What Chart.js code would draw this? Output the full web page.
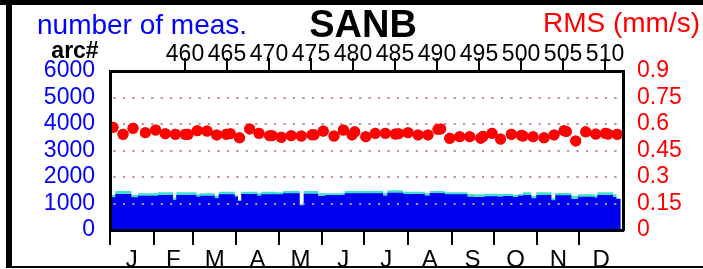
<!DOCTYPE html>
<html>
<head>
<meta charset="utf-8">
<script src="https://cdn.jsdelivr.net/npm/chart.js@4.4.0/dist/chart.umd.min.js"></script>
<style>
  html, body { margin: 0; padding: 0; background: #fff; }
  canvas { display: block; }
</style>
</head>
<body>
<canvas id="SanbChart" width="703" height="269"></canvas>
<script>
// axis ticks
const arcTicks = [460, 465, 470, 475, 480, 485, 490, 495, 500, 505, 510];
const monthLabels = ['J', 'F', 'M', 'A', 'M', 'J', 'J', 'A', 'S', 'O', 'N', 'D'];
const monthStarts = [0, 31, 59, 90, 120, 151, 181, 212, 243, 273, 304, 334, 365];
const measTicks = [0, 1000, 2000, 3000, 4000, 5000, 6000];
const rmsTicks = [0, 0.15, 0.3, 0.45, 0.6, 0.75, 0.9];

// number of measurements (stepped), arc where each step starts
const stepArc = [451.1, 451.70, 453.61, 454.40, 456.79, 458.57, 458.96, 461.35, 461.75, 463.54,
  464.01, 465.92, 466.31, 466.70, 468.61, 469.08, 470.87, 471.67, 473.65, 474.13,
  475.83, 476.70, 479.01, 483.57, 484.08, 485.95, 488.54, 489.13, 490.92, 493.61,
  494.49, 495.68, 497.26, 497.86, 499.05, 499.64, 500.24, 501.23, 501.82, 503.61,
  504.08, 505.99, 506.79, 508.77, 509.08, 510.95, 511.35];
const stepEnd = 511.87;
const measUsed = [1233, 1358, 1233, 1296, 1321, 1132, 1321, 1258, 1296, 1195,
  1346, 1258, 1094, 1358, 1296, 1346, 1346, 1384, 935, 1371,
  1283, 1321, 1384, 1296, 1409, 1358, 1296, 1396, 1346, 1258,
  1245, 1270, 1258, 1283, 1245, 1296, 1321, 1195, 1321, 1120,
  1308, 1170, 1258, 1220, 1321, 1245, 1170];
const measAll = [1321, 1472, 1321, 1384, 1422, 1220, 1422, 1346, 1384, 1296,
  1447, 1321, 1130, 1447, 1384, 1447, 1422, 1472, 975, 1472,
  1384, 1384, 1472, 1384, 1497, 1447, 1384, 1472, 1422, 1358,
  1346, 1371, 1358, 1371, 1321, 1358, 1422, 1283, 1422, 1195,
  1396, 1296, 1346, 1296, 1422, 1346, 1195];

// RMS per arc
const rmsArc = [451.43, 452.62, 453.81, 455.27, 456.51, 457.65, 458.85, 460.04, 460.36, 461.46,
  462.62, 463.77, 464.92, 465.39, 466.49, 467.70, 468.81, 470.08, 470.36, 471.46,
  472.65, 473.85, 475.12, 475.36, 476.46, 477.74, 478.85, 479.88, 480.20, 481.52,
  482.65, 483.85, 485.04, 485.44, 486.55, 487.74, 488.93, 490.12, 490.44, 491.51,
  492.70, 493.89, 495.20, 495.48, 496.55, 497.56, 498.85, 500.04, 500.24, 501.43,
  502.74, 503.93, 505.12, 505.39, 506.51, 507.70, 508.89, 510.04, 510.36, 511.46];
const rmsValue = [0.581, 0.542, 0.576, 0.551, 0.566, 0.545, 0.542, 0.542, 0.542, 0.562,
  0.560, 0.538, 0.542, 0.545, 0.522, 0.572, 0.547, 0.534, 0.534, 0.525,
  0.534, 0.532, 0.539, 0.539, 0.560, 0.532, 0.566, 0.538, 0.556, 0.528,
  0.547, 0.547, 0.543, 0.545, 0.551, 0.538, 0.538, 0.570, 0.572, 0.519,
  0.528, 0.528, 0.520, 0.530, 0.547, 0.515, 0.542, 0.536, 0.532, 0.528,
  0.522, 0.538, 0.562, 0.558, 0.504, 0.556, 0.543, 0.547, 0.543, 0.542];

const family = "'Liberation Sans', Arial, Helvetica, sans-serif";

function steps(values) {
  const pts = stepArc.map((a, i) => ({x: a, y: values[i]}));
  pts.push({x: stepEnd, y: values[values.length - 1]});
  return pts;
}

// month axis: boundary ticks carry the marks, mid-month ticks carry the letters
const monthTicks = [];
for (let i = 0; i < 12; i++) {
  monthTicks.push({value: monthStarts[i], label: '', mark: true});
  monthTicks.push({value: (monthStarts[i] + monthStarts[i + 1]) / 2, label: monthLabels[i], mark: false});
}

const headers = {
  id: 'headers',
  afterDraw(chart) {
    const g = chart.ctx;
    const a = chart.chartArea;
    // dotted grid over the filled steps, rms dots over the grid
    chart.scales.y.drawGrid(a);
    g.save();
    g.beginPath();
    g.rect(a.left, a.top, a.right - a.left, a.bottom - a.top);
    g.clip();
    chart.getDatasetMeta(0).controller.draw();
    g.restore();
    ['x', 'xm', 'y', 'y2'].forEach(id => chart.scales[id].drawBorder());

    g.save();
    g.setLineDash([]);
    g.globalAlpha = 1;
    g.globalCompositeOperation = 'source-over';
    g.textBaseline = 'alphabetic';
    g.textAlign = 'left';
    g.fillStyle = '#0000ff';
    g.font = '28px ' + family;
    g.fillText('number of meas.', 37, 34);
    g.textAlign = 'center';
    g.fillStyle = '#000';
    g.font = 'bold 38px ' + family;
    g.fillText('SANB', 363, 37);
    g.font = 'bold 23px ' + family;
    g.fillText('arc#', 75, 58);
    g.textAlign = 'right';
    g.fillStyle = '#ff0000';
    g.font = '28px ' + family;
    g.fillText('RMS (mm/s)', 700, 32);
    // frame
    g.fillStyle = '#000';
    g.fillRect(0, 0, 703, 5);
    g.fillRect(6, 0, 6, 268);
    g.fillRect(11, 266, 692, 2);

    // arc# tick marks hanging above the plot
    const s = chart.scales.x;
    const base = Number.isFinite(s.bottom) ? s.bottom : a.top;
    g.strokeStyle = '#000';
    g.lineWidth = 2;
    g.beginPath();
    arcTicks.forEach(v => {
      let px = s.getPixelForValue(v);
      if (!Number.isFinite(px)) px = a.left + (v - s.min) / (s.max - s.min) * (a.right - a.left);
      g.moveTo(Math.round(px), base - 13);
      g.lineTo(Math.round(px), base);
    });
    g.stroke();
    g.restore();
  }
};

const sanbChart = new Chart(document.getElementById('SanbChart'), {
  type: 'line',
  data: {
    datasets: [{
      type: 'scatter',
      label: 'RMS',
      data: rmsArc.map((a, i) => ({x: a, y: rmsValue[i]})),
      xAxisID: 'x',
      yAxisID: 'y2',
      backgroundColor: '#ff0000',
      borderColor: '#ff0000',
      pointRadius: 5.5,
      pointBorderWidth: 0
    }, {
      label: 'used',
      data: steps(measUsed),
      xAxisID: 'x',
      yAxisID: 'y',
      stepped: 'before',
      fill: 'origin',
      backgroundColor: '#0000f0',
      borderColor: '#0000f0',
      borderWidth: 0,
      pointRadius: 0
    }, {
      label: 'all',
      data: steps(measAll),
      xAxisID: 'x',
      yAxisID: 'y',
      stepped: 'before',
      fill: 'origin',
      backgroundColor: '#40e0d0',
      borderColor: '#40e0d0',
      borderWidth: 0,
      pointRadius: 0
    }]
  },
  options: {
    responsive: false,
    animation: false,
    devicePixelRatio: 1,
    layout: { padding: 0 },
    plugins: {
      legend: { display: false },
      tooltip: { enabled: false },
      title: { display: false }
    },
    scales: {
      x: {
        type: 'linear',
        position: 'top',
        min: 451.07,
        max: 512.14,
        afterBuildTicks: s => { s.ticks = arcTicks.map(v => ({value: v})); },
        afterFit: s => { s.height = 71; },
        ticks: {
          autoSkip: false, maxRotation: 0, color: '#000', padding: -8,
          font: { family: family, size: 23, lineHeight: 1 },
          callback: v => String(v)
        },
        grid: { drawOnChartArea: false, drawTicks: true, tickLength: 13, color: '#000', lineWidth: 2 },
        border: { display: true, color: '#000', width: 3 }
      },
      xm: {
        type: 'linear',
        position: 'bottom',
        min: 0,
        max: 365,
        afterBuildTicks: s => { s.ticks = monthTicks.map(t => ({value: t.value})); },
        afterFit: s => { s.height = 39; },
        ticks: {
          autoSkip: false, maxRotation: 0, color: '#000', padding: 3,
          font: { family: family, size: 24, lineHeight: 1 },
          callback: (v, i) => monthTicks[i].label
        },
        grid: {
          drawOnChartArea: false, drawTicks: true, tickLength: 15, lineWidth: 2,
          color: c => (monthTicks[c.index] && monthTicks[c.index].mark) ? '#000' : 'rgba(0,0,0,0)'
        },
        border: { display: true, color: '#000', width: 3 }
      },
      y: {
        position: 'left',
        min: 0,
        max: 6000,
        afterBuildTicks: s => { s.ticks = measTicks.map(v => ({value: v})); },
        afterFit: s => { s.width = 110; },
        ticks: {
          autoSkip: false, color: '#0000ff', padding: 15,
          font: { family: family, size: 23 },
          callback: v => String(v)
        },
        grid: {
          drawTicks: false, lineWidth: 2,
          color: c => (c.tick && c.tick.value > 0 && c.tick.value < 6000) ? '#c09898' : 'rgba(0,0,0,0)'
        },
        border: { display: true, color: '#000', width: 3, dash: [2, 7.45], dashOffset: -1.5 }
      },
      y2: {
        position: 'right',
        min: 0,
        max: 0.9,
        afterBuildTicks: s => { s.ticks = rmsTicks.map(v => ({value: v})); },
        afterFit: s => { s.width = 80; },
        ticks: {
          autoSkip: false, color: '#ff0000', padding: 14,
          font: { family: family, size: 23 },
          callback: v => String(v)
        },
        grid: { drawOnChartArea: false, drawTicks: false },
        border: { display: true, color: '#000', width: 3 }
      }
    }
  },
  plugins: [headers]
});
</script>
</body>
</html>
